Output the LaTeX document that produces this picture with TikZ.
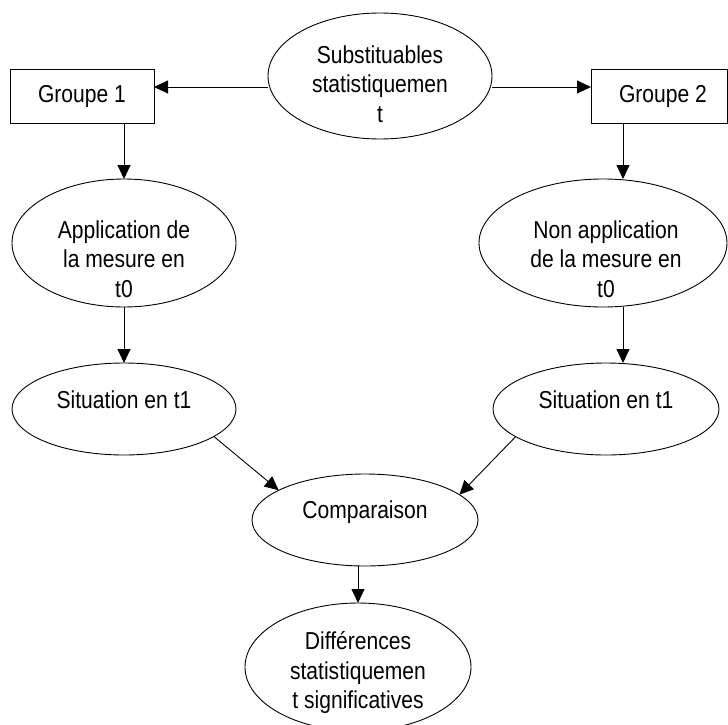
\documentclass[tikz,border=0pt]{standalone}
\usepackage{fontspec}
\setmainfont{Liberation Sans}[FakeStretch=0.86]
\usetikzlibrary{shapes.geometric,arrows.meta,calc}
\tikzset{
ell/.style={draw, ellipse, line width=0.9pt, inner sep=0pt, outer sep=0pt},
boite/.style={draw, rectangle, line width=0.9pt, inner sep=0pt, outer sep=0pt, minimum height=54pt},
txt/.style={font=\fontsize{24.5}{29.5}\selectfont, align=center, inner sep=0pt},
fleche/.style={-{Triangle[length=14pt,width=13pt]}, line width=0.9pt}
}
\begin{document}
\begin{tikzpicture}[x=1pt,y=-1pt]
\useasboundingbox (0,0) rectangle (728,725);
% ellipses et boites
\node[ell, minimum width=224pt, minimum height=126pt] (sub) at (380,76) {};
\node[boite, minimum width=144pt] (g1) at (82,96) {};
\node[boite, minimum width=136pt] (g2) at (659,96) {};
\node[ell, minimum width=224pt, minimum height=128pt] (app) at (124,243) {};
\node[ell, minimum width=248pt, minimum height=128pt] (nonapp) at (603,243) {};
\node[ell, minimum width=224pt, minimum height=92pt] (sitL) at (124,409) {};
\node[ell, minimum width=226pt, minimum height=92pt] (sitR) at (606,409) {};
\node[ell, minimum width=226pt, minimum height=92pt] (comp) at (365,520) {};
\node[ell, minimum width=226pt, minimum height=128pt] (diff) at (358,667) {};
% textes
\node[txt] (subT) at ([yshift=-8pt]sub) {Substituables\\statistiquemen\\t};
\node[txt] (g1T) at (g1) {Groupe 1};
\node[txt] (g2T) at ([xshift=4pt]g2) {Groupe 2};
\node[txt] (appT) at ([yshift=-16pt]app) {Application de\\la mesure en\\t0};
\node[txt] (nonappT) at ([xshift=3pt,yshift=-16pt]nonapp) {Non application\\de la mesure en\\t0};
\node[txt] (sitLT) at ([yshift=9pt]sitL) {Situation en t1};
\node[txt] (sitRT) at ([yshift=9pt]sitR) {Situation en t1};
\node[txt] (compT) at ([yshift=8pt]comp) {Comparaison};
\node[txt] (diffT) at ([yshift=-6pt]diff) {Différences\\statistiquemen\\t significatives};
% fleches
\draw[fleche] ([yshift=-11pt]sub.west) -- ([yshift=-11pt]sub.west -| g1.east);
\draw[fleche] ([yshift=-11pt]sub.east) -- ([yshift=-11pt]sub.east -| g2.west);
\draw[fleche] (app.north |- g1.south) -- (app.north);
\draw[fleche] ([xshift=20pt]nonapp.north |- g2.south) -- ([xshift=20pt]nonapp.north);
\draw[fleche] (app.south) -- (sitL.north);
\draw[fleche] ([xshift=17pt]sitR.north |- nonapp.south) -- ([xshift=17pt]sitR.north);
\draw[fleche] (sitL.-17) -- (comp.161);
\draw[fleche] (sitR.197) -- (comp.15);
\draw[fleche] (diff.north |- comp.south) -- (diff.north);
\end{tikzpicture}
\end{document}
